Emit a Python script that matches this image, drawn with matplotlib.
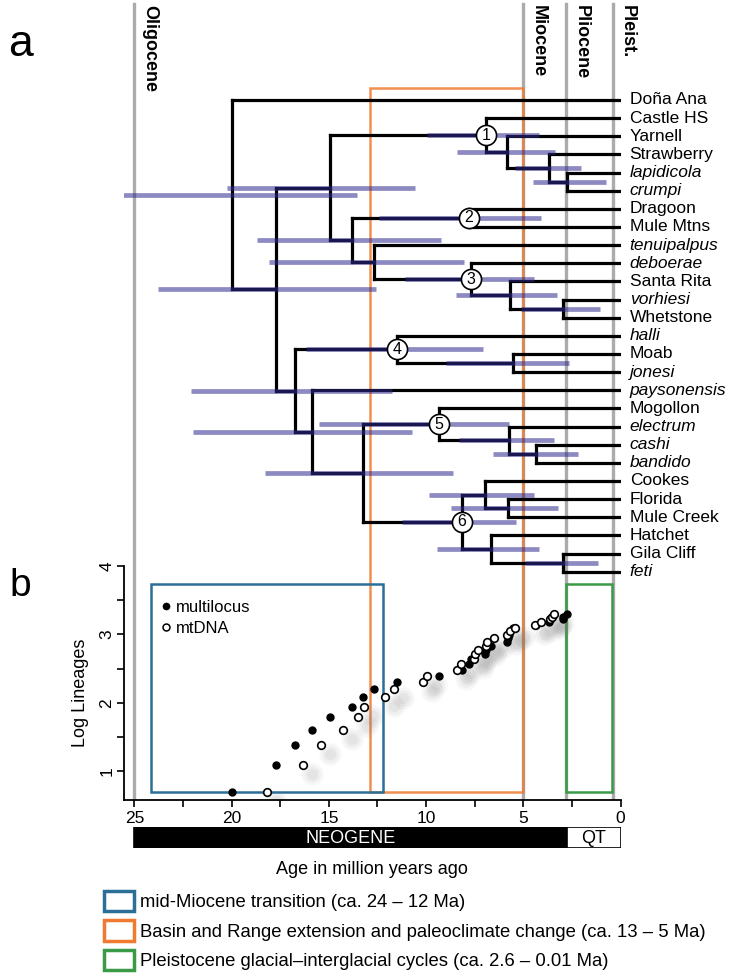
import matplotlib
matplotlib.use('Agg')
import matplotlib.pyplot as plt
import numpy as np
from matplotlib.patches import Rectangle
from matplotlib.lines import Line2D
from matplotlib.transforms import blended_transform_factory, offset_copy

plt.rcParams['font.family'] = ['Liberation Sans', 'DejaVu Sans']

W, H, DPI = 734, 977, 100

# ---- tree data ----
tips = ['Doña Ana', 'Castle HS', 'Yarnell', 'Strawberry', 'lapidicola', 'crumpi',
        'Dragoon', 'Mule Mtns', 'tenuipalpus', 'deboerae', 'Santa Rita', 'vorhiesi',
        'Whetstone', 'halli', 'Moab', 'jonesi', 'paysonensis', 'Mogollon', 'electrum',
        'cashi', 'bandido', 'Cookes', 'Florida', 'Mule Creek', 'Hatchet', 'Gila Cliff', 'feti']
italic_tips = ['lapidicola', 'crumpi', 'tenuipalpus', 'deboerae', 'vorhiesi', 'halli',
               'jonesi', 'paysonensis', 'electrum', 'cashi', 'bandido', 'feti']

node_names = ['root', 'n17', 'n_up', 'nd1', 'nA', 'nB', 'nC', 'n138', 'nd2', 'n127',
              'nd3', 'n57', 'n30a', 'nL', 'nd4', 'n555', 'nP', 'n1323', 'nd5', 'n575',
              'n433', 'nd6', 'n695', 'n58', 'n666', 'n30b']
child_a = ['Doña Ana', 'n_up', 'nd1', 'Castle HS', 'Yarnell', 'Strawberry', 'lapidicola',
           'nd2', 'Dragoon', 'tenuipalpus', 'deboerae', 'Santa Rita', 'vorhiesi', 'nd4',
           'halli', 'Moab', 'paysonensis', 'nd5', 'Mogollon', 'electrum', 'cashi', 'n695',
           'Cookes', 'Florida', 'Hatchet', 'Gila Cliff']
child_b = ['n17', 'nL', 'n138', 'nA', 'nB', 'nC', 'crumpi', 'n127', 'Mule Mtns', 'nd3',
           'n57', 'n30a', 'Whetstone', 'nP', 'n555', 'jonesi', 'n1323', 'nd6', 'n575',
           'n433', 'bandido', 'n666', 'n58', 'Mule Creek', 'n30b', 'feti']
node_age = [19.97, 17.70, 14.96, 6.90, 5.84, 3.69, 2.75, 13.79, 7.80, 12.70,
            7.69, 5.70, 2.96, 16.74, 11.50, 5.55, 15.85, 13.23, 9.35, 5.75,
            4.33, 8.15, 6.95, 5.80, 6.66, 2.96]
hpd_old = [27.67, 23.80, 20.26, 9.95, 8.41, 5.41, 4.50, 18.68, 12.44, 18.10,
           11.07, 8.45, 5.10, 22.10, 16.20, 8.98, 21.99, 18.29, 15.50, 8.32,
           6.56, 11.24, 9.87, 8.70, 9.44, 4.90]
hpd_young = [13.57, 12.60, 10.56, 4.20, 3.38, 2.03, 0.75, 9.23, 4.07, 8.07,
             4.47, 3.27, 1.07, 11.75, 7.07, 2.66, 10.70, 8.63, 5.75, 3.40,
             2.19, 5.38, 4.47, 3.23, 4.20, 1.16]
node_numbers = {'nd1': '1', 'nd2': '2', 'nd3': '3', 'nd4': '4', 'nd5': '5', 'nd6': '6'}

# ---- epochs / events ----
epoch_names = ['Oligocene', 'Miocene', 'Pliocene', 'Pleist.']
epoch_lines = [25.0, 5.0, 2.8, 0.4]
event_labels = ['mid-Miocene transition (ca. 24 – 12 Ma)',
                'Basin and Range extension and paleoclimate change (ca. 13 – 5 Ma)',
                'Pleistocene glacial–interglacial cycles (ca. 2.6 – 0.01 Ma)']
event_colors = ['#2b6f98', '#ee7b30', '#3b9a47']
event_start = [24.17, 12.88, 2.82]
event_end = [12.20, 5.02, 0.42]
period_names = ['NEOGENE', 'QT']
period_start = [25.0, 2.77]
period_end = [2.77, 0.0]

# ---- lineage-through-time ----
ltt_lineages = list(range(2, 28))
mt_ages = [18.20, 16.35, 15.40, 14.30, 13.50, 13.20, 12.10, 11.63, 10.16, 9.94,
           8.40, 8.22, 7.55, 7.47, 7.35, 6.90, 6.85, 6.49, 5.84, 5.70, 5.44,
           4.41, 4.10, 3.64, 3.50, 3.40]

fig = plt.figure(figsize=(W / DPI, H / DPI), dpi=DPI)


def add_px_axes(left, top, right, bottom):
    return fig.add_axes([left / W, 1 - bottom / H, (right - left) / W, (bottom - top) / H])


XL, XR = 25.54, 0.0
GRAY = '#ababab'

# tree panel
ax = add_px_axes(124, 0, 620.5, 800)
ax.set_xlim(XL, XR)
ax.set_ylim((800 - 100) / 18.14, -100 / 18.14)
ax.axis('off')
tx = blended_transform_factory(ax.transData, ax.transAxes)

ypos = {name: i for i, name in enumerate(tips)}
age = {name: -0.08 for name in tips}
age.update(dict(zip(node_names, node_age)))


def get_y(n):
    if n not in ypos:
        i = node_names.index(n)
        ypos[n] = 0.5 * (get_y(child_a[i]) + get_y(child_b[i]))
    return ypos[n]


for n in node_names:
    get_y(n)

for t in epoch_lines:
    ax.axvline(t, ymin=0.001, ymax=0.995, color=GRAY, lw=2.4, zorder=0)
for name, t in zip(epoch_names, epoch_lines):
    ax.text(t - 0.33, 0.994, name, transform=tx, rotation=-90, ha='left', va='top',
            fontsize=13, fontweight='bold', clip_on=False)

# orange box spans both panels
ax.add_patch(Rectangle((event_start[1], 0.01), event_end[1] - event_start[1], 0.88,
                       transform=tx, fill=False, edgecolor=event_colors[1], lw=1.8,
                       alpha=0.85, zorder=1))

for n, a, b, t in zip(node_names, child_a, child_b, node_age):
    ax.plot([t, t], [ypos[a], ypos[b]], color='black', lw=2.3,
            solid_capstyle='projecting', zorder=2)
    for c in (a, b):
        ax.plot([t, age[c]], [ypos[c], ypos[c]], color='black', lw=2.3,
                solid_capstyle='projecting', zorder=2)

for n, lo, hi in zip(node_names, hpd_old, hpd_young):
    ax.plot([lo, hi], [ypos[n], ypos[n]], color='#2e2a8f', alpha=0.55, lw=3.4,
            solid_capstyle='butt', zorder=3)

for n, lab in node_numbers.items():
    ax.plot(age[n], ypos[n], 'o', ms=14.5, mfc='white', mec='black', mew=1.2, zorder=5)
    ax.text(age[n], ypos[n], lab, ha='center', va='center', fontsize=11.5, zorder=6)

for name in tips:
    ax.text(-0.47, ypos[name], name, ha='left', va='center', fontsize=12.5,
            style='italic' if name in italic_tips else 'normal', clip_on=False)

# LTT panel
ax2 = add_px_axes(124, 565.8, 620.5, 800)
ax2.set_facecolor('none')
ax2.set_xlim(XL, XR)
ax2.set_ylim(0.581, 4.0)
for s in ['top', 'right']:
    ax2.spines[s].set_visible(False)
for s in ['left', 'bottom']:
    ax2.spines[s].set_linewidth(1.3)
ax2.set_xticks([25, 20, 15, 10, 5, 0])
ax2.set_xticks([22.5, 17.5, 12.5, 7.5, 2.5], minor=True)
ax2.set_yticks([1, 2, 3, 4])
ax2.set_yticks([1.5, 2.5, 3.5], minor=True)
ax2.tick_params(which='both', direction='out', width=1.2, length=5, labelsize=12.5)
ax2.tick_params(axis='x', pad=3)
ax2.tick_params(axis='y', labelrotation=90, pad=2)
for lab in ax2.get_yticklabels():
    lab.set_va('center')
ax2.set_ylabel('Log Lineages', fontsize=13)
ax2.yaxis.set_label_coords(-0.07, 0.457)

for k in [0, 2]:
    ax2.add_patch(Rectangle((event_start[k], np.log(2)), event_end[k] - event_start[k],
                            3.74 - np.log(2), fill=False, edgecolor=event_colors[k],
                            lw=1.8, zorder=1))

ml_ages = sorted(node_age, reverse=True)
ml_y = np.log(ltt_lineages)
mt_y = np.log(ltt_lineages)

shadow = offset_copy(ax2.transData, fig=fig, x=9, y=-9, units='dots')
for ms, al in [(16, 0.06), (12, 0.07), (8, 0.08)]:
    ax2.plot(mt_ages, mt_y, 'o', ms=ms, color='#7a7a7a', mec='none', alpha=al,
             transform=shadow, zorder=2)

ax2.plot(ml_ages, ml_y, 'o', ms=5, color='black', zorder=4, clip_on=False)
ax2.plot(mt_ages, mt_y, 'o', ms=5.5, mfc='white', mec='black', mew=1.2, zorder=4,
         clip_on=False)

h1 = Line2D([], [], marker='o', ls='none', color='black', ms=4.5)
h2 = Line2D([], [], marker='o', ls='none', mfc='white', mec='black', mew=1.1, ms=5)
ax2.legend([h1, h2], ['multilocus', 'mtDNA'], loc='upper left',
           bbox_to_anchor=(0.075, 0.855), frameon=False, fontsize=12,
           handlelength=0.6, handletextpad=0.3, labelspacing=0.35,
           borderpad=0, borderaxespad=0)

# period bar
ax3 = add_px_axes(124, 827, 620.5, 848)
ax3.set_xlim(XL, XR)
ax3.set_ylim(0, 1)
ax3.axis('off')
period_fc = ['black', 'white']
period_tc = ['white', 'black']
for name, s, e, fc, tc in zip(period_names, period_start, period_end, period_fc, period_tc):
    ax3.add_patch(Rectangle((s, 0), e - s, 1, facecolor=fc, edgecolor='black', lw=1.2))
    ax3.text((s + e) / 2, 0.45, name, ha='center', va='center', color=tc, fontsize=13)
ax3.text(0.5, -1.0, 'Age in million years ago', transform=ax3.transAxes,
         ha='center', va='center', fontsize=13)

# event legend
handles = [Rectangle((0, 0), 1, 1, facecolor='white', edgecolor=c, lw=2.5)
           for c in event_colors]
fig.legend(handles, event_labels, loc='upper left', bbox_to_anchor=(104 / W, 1 - 891 / H),
           frameon=False, fontsize=13.3, handlelength=1.6, handleheight=1.3,
           handletextpad=0.35, labelspacing=0.5, borderpad=0, borderaxespad=0)

fig.text(20 / W, 1 - 45 / H, 'a', fontsize=32, ha='center', va='center')
fig.text(20 / W, 1 - 586 / H, 'b', fontsize=28, ha='center', va='center')

fig.savefig('out.png', dpi=DPI)
